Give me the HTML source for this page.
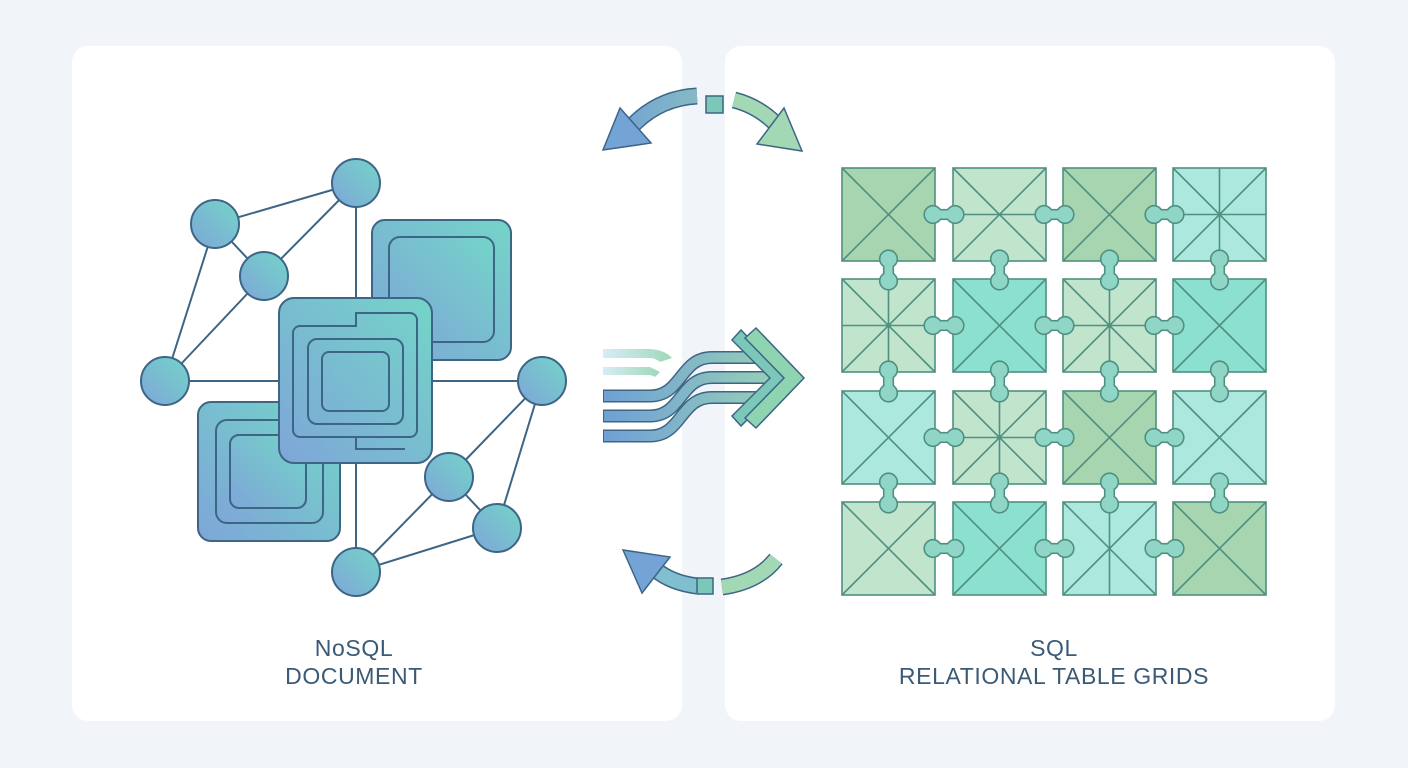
<!DOCTYPE html>
<html><head><meta charset="utf-8"><style>
html,body{margin:0;padding:0;background:#f1f4f8;width:1408px;height:768px;overflow:hidden}
.p{position:absolute;top:46px;height:675px;background:#fff;border-radius:16px}
.t{position:absolute;width:610px;text-align:center;font:23px/28px "Liberation Sans",sans-serif;color:#3b5a76;letter-spacing:0.6px}
svg{position:absolute;left:0;top:0}
</style></head><body>
<div class="p" style="left:72px;width:610px"></div>
<div class="p" style="left:725px;width:610px"></div>
<div class="t" style="left:49px;top:634px">NoSQL<br>DOCUMENT</div>
<div class="t" style="left:749px;top:634px">SQL<br>RELATIONAL TABLE GRIDS</div>
<svg width="1408" height="768" id="s">
<defs>
<linearGradient id="gb" x1="0" y1="1" x2="1" y2="0"><stop offset="0" stop-color="#7ea6d8"/><stop offset="1" stop-color="#74d4c8"/></linearGradient>
<linearGradient id="ga" gradientUnits="userSpaceOnUse" x1="603" y1="0" x2="805" y2="0"><stop offset="0" stop-color="#6f9fd6"/><stop offset="1" stop-color="#9ed8b0"/></linearGradient>
<linearGradient id="gf" x1="0" y1="0" x2="1" y2="0"><stop offset="0" stop-color="#d8ecf6"/><stop offset="1" stop-color="#9fd8b8"/></linearGradient>
</defs>
<g stroke="#3d6585" stroke-width="2" fill="none">
<line x1="215" y1="224" x2="356" y2="183"/><line x1="215" y1="224" x2="264" y2="276"/><line x1="264" y1="276" x2="356" y2="183"/>
<line x1="215" y1="224" x2="165" y2="381"/><line x1="264" y1="276" x2="165" y2="381"/>
<line x1="165" y1="381" x2="542" y2="381"/><line x1="356" y1="183" x2="356" y2="572"/>
<line x1="542" y1="381" x2="449" y2="477"/><line x1="542" y1="381" x2="497" y2="528"/><line x1="449" y1="477" x2="497" y2="528"/>
<line x1="449" y1="477" x2="356" y2="572"/><line x1="497" y1="528" x2="356" y2="572"/>
</g>
<g stroke="#3d6585" stroke-width="2" fill="url(#gb)">
<rect x="372" y="220" width="139" height="140" rx="13"/>
<rect x="389" y="237" width="105" height="105" rx="11"/>
<rect x="198" y="402" width="142" height="139" rx="13"/>
<rect x="216" y="420" width="107" height="103" rx="11"/>
<rect x="230" y="435" width="76" height="73" rx="9"/>
<rect x="279" y="298" width="153" height="165" rx="15"/>
<path d="M356 313 H410 a7 7 0 0 1 7 7 V430 a7 7 0 0 1 -7 7 H300 a7 7 0 0 1 -7 -7 V333 a7 7 0 0 1 7 -7 H356 Z" fill="none"/>
<path d="M356 437 V449 H405" fill="none"/>
<rect x="308" y="339" width="95" height="85" rx="9" fill="none"/>
<rect x="322" y="352" width="67" height="59" rx="7" fill="none"/>
<circle cx="165" cy="381" r="24"/><circle cx="215" cy="224" r="24"/><circle cx="264" cy="276" r="24"/><circle cx="356" cy="183" r="24"/>
<circle cx="542" cy="381" r="24"/><circle cx="449" cy="477" r="24"/><circle cx="497" cy="528" r="24"/><circle cx="356" cy="572" r="24"/>
</g>
<g fill="none">
<g stroke="#3d6585" stroke-width="17">
<path d="M697 96 Q660 98 634 124"/>
<path d="M734 100 Q758 106 776 124"/>
<path d="M697 586 Q672 583 656 570"/>
<path d="M722 587 Q758 582 776 559"/>
</g>
<g stroke="url(#ga)" stroke-width="14">
<path d="M697 96 Q660 98 634 124"/>
<path d="M734 100 Q758 106 776 124" stroke="#a2d8b4"/>
<path d="M697 586 Q672 583 656 570" stroke="#80bfd0"/>
<path d="M722 587 Q758 582 776 559" stroke="#a2d8b4"/>
</g>
</g>
<g stroke="#3d6585" stroke-width="1.5">
<path d="M603 150 L620 108 L651 143 Z" fill="#74a3d6"/>
<path d="M802 151 L784 108 L757 144 Z" fill="#a2d8b4"/>
<path d="M623 550 L642 593 L670 557 Z" fill="#74a3d6"/>
<rect x="706" y="96" width="17" height="17" fill="#7cc8b8"/>
<rect x="697" y="578" width="16" height="16" fill="#7cc8b8"/>
</g>
<path d="M603 349 H650 Q665 350 672 358 L660 362 Q655 358 650 358 H603 Z" fill="url(#gf)"/>
<path d="M603 367 H650 L660 372 L655 377 Q652 375 648 375 H603 Z" fill="url(#gf)"/>
<g fill="none">
<g stroke="#3d6585" stroke-width="13">
<path d="M603 396 H650 C682 396 680 357.5 712 357.5 H772"/>
<path d="M603 416 H650 C682 416 680 377.5 712 377.5 H776"/>
<path d="M603 436 H650 C682 436 680 397.5 712 397.5 H762"/>
</g>
<g stroke="url(#ga)" stroke-width="10">
<path d="M604 396 H650 C682 396 680 357.5 712 357.5 H772"/>
<path d="M604 416 H650 C682 416 680 377.5 712 377.5 H776"/>
<path d="M604 436 H650 C682 436 680 397.5 712 397.5 H762"/>
</g>
</g>
<g stroke="#3d6585" stroke-width="1.5">
<path d="M741 330 L788 378 L741 426 L732 416 L770 378 L732 340 Z" fill="#7cc8b8"/>
<path d="M756 328 L804 378 L756 428 L745 418 L784 378 L745 338 Z" fill="#8fd4b0"/>
</g>
<g id="grid"></g>
</svg>
<script>
var xs=[842,953,1063,1173],ys=[168,279,391,502],w=93;
var G="#a6d5b0",L="#c0e4cc",T="#8ce0d0",LT="#ace8de";
var col=[[G,L,G,LT],[L,T,L,T],[LT,L,G,LT],[L,T,LT,G]];
var plus={"0,1":"h","0,3":"p","1,0":"p","1,2":"p","2,1":"p","3,2":"v"};
var s='',st='stroke="#4f9080" stroke-width="1.6"';
for(var r=0;r<4;r++)for(var c=0;c<4;c++){var x=xs[c],y=ys[r],p=plus[r+','+c]||'';
s+='<rect x="'+x+'" y="'+y+'" width="'+w+'" height="'+w+'" fill="'+col[r][c]+'" '+st+'/>';
s+='<path d="M'+x+' '+y+'L'+(x+w)+' '+(y+w)+'M'+(x+w)+' '+y+'L'+x+' '+(y+w)+((p=='p'||p=='v')?'M'+(x+w/2)+' '+y+'V'+(y+w):'')+((p=='p'||p=='h')?'M'+x+' '+(y+w/2)+'H'+(x+w):'')+'" fill="none" '+st+'/>';}
var sh=[];
for(var r=0;r<4;r++)for(var c=0;c<3;c++){var x=xs[c]+w,y=ys[r]+w/2,x2=xs[c+1];
sh.push('<rect x="'+(x-2)+'" y="'+(y-4)+'" width="'+(x2-x+4)+'" height="8"/><circle cx="'+(x-2)+'" cy="'+y+'" r="8"/><circle cx="'+(x2+2)+'" cy="'+y+'" r="8"/>');}
for(var r=0;r<3;r++)for(var c=0;c<4;c++){var x=xs[c]+w/2,y=ys[r]+w,y2=ys[r+1];
sh.push('<rect x="'+(x-4)+'" y="'+(y-2)+'" width="8" height="'+(y2-y+4)+'"/><circle cx="'+x+'" cy="'+(y-2)+'" r="8"/><circle cx="'+x+'" cy="'+(y2+2)+'" r="8"/>');}
var j=sh.join('');
s+='<g stroke="#4f9080" stroke-width="3.2" fill="#8fd6c6">'+j+'</g><g fill="#8fd6c6">'+j+'</g>';
document.getElementById('grid').innerHTML=s;
</script>
</body></html>
